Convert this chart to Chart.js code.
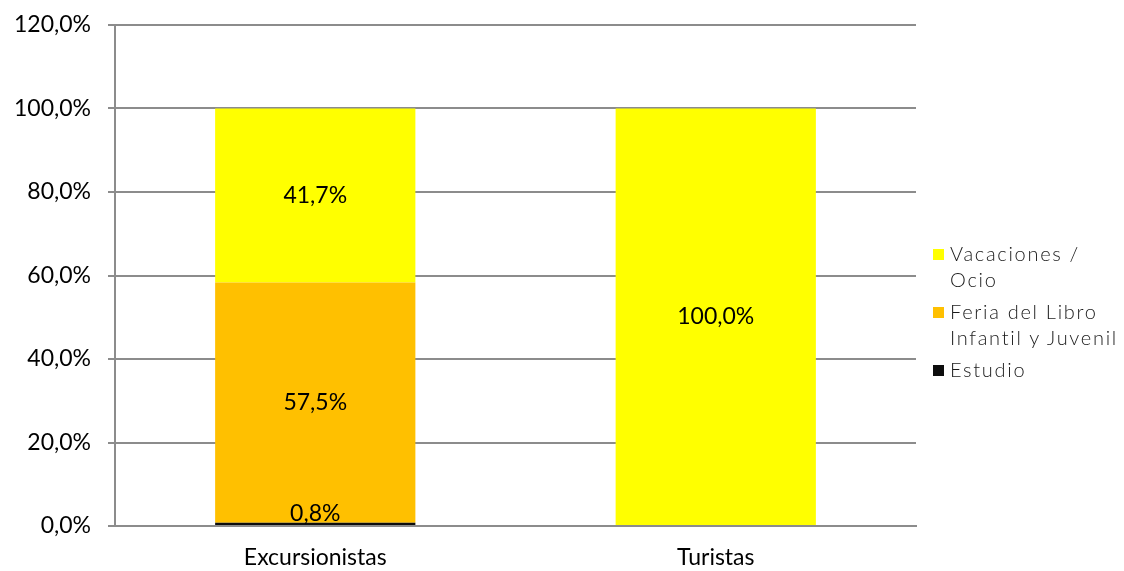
<!DOCTYPE html>
<html>
<head>
<meta charset="utf-8">
<script src="https://cdn.jsdelivr.net/npm/chart.js@4"></script>
<style>
    html, body { margin: 0; padding: 0; background: #fff; }
    #wrap { position: relative; width: 1124px; height: 571px; }
    #legend {
        position: absolute; left: 933px; top: 240px;
        font-family: "Lato", sans-serif; font-weight: 300; font-size: 20px;
        color: #1a1a1a; line-height: 26px; letter-spacing: 1.7px;
    }
    .item { position: relative; padding-left: 17px; margin-bottom: 6px; white-space: nowrap; }
    .box { position: absolute; left: 0; top: 9px; width: 11px; height: 11px; }
</style>
</head>
<body>
<div id="wrap">
    <canvas id="chart" width="1124" height="571"></canvas>
    <div id="legend"></div>
</div>
<script>
// Data
const categories = ["Excursionistas", "Turistas"];
const seriesNames = ["Estudio", "Feria del Libro Infantil y Juvenil", "Vacaciones / Ocio"];
const legendLines = [["Estudio"], ["Feria del Libro", "Infantil y Juvenil"], ["Vacaciones /", "Ocio"]];
const estudio = [0.8, 0];
const feria = [57.5, 0];
const vacaciones = [41.7, 100.0];
const yTicks = [0, 20, 40, 60, 80, 100, 120];
const colors = ["#0d0d0d", "#FFC000", "#FFFF00"];

const fmt = v => v.toFixed(1).replace(".", ",") + "%";

// Draw value labels in the middle of each bar segment
const barLabels = {
    id: "barLabels",
    afterDatasetsDraw(chart) {
        const ctx = chart.ctx;
        ctx.save();
        ctx.font = '23px "Lato", sans-serif';
        ctx.fillStyle = "#000";
        ctx.textAlign = "center";
        chart.data.datasets.forEach((ds, i) => {
            chart.getDatasetMeta(i).data.forEach((bar, j) => {
                const v = ds.data[j];
                if (!v) return;
                const h = Math.abs(bar.base - bar.y);
                if (h < 20) {
                    ctx.textBaseline = "bottom";
                    ctx.fillText(fmt(v), bar.x, bar.y + 2);
                } else {
                    ctx.textBaseline = "middle";
                    ctx.fillText(fmt(v), bar.x, (bar.y + bar.base) / 2);
                }
            });
        });
        ctx.restore();
    }
};

const ctx = document.getElementById("chart").getContext("2d");
new Chart(ctx, {
    type: "bar",
    data: {
        labels: categories,
        datasets: [
            { label: seriesNames[0], data: estudio, backgroundColor: colors[0] },
            { label: seriesNames[1], data: feria, backgroundColor: colors[1] },
            { label: seriesNames[2], data: vacaciones, backgroundColor: colors[2] }
        ]
    },
    options: {
        responsive: false,
        animation: false,
        layout: { padding: { top: 25, right: 208, bottom: 0, left: 0 } },
        datasets: { bar: { categoryPercentage: 1.0, barPercentage: 0.5 } },
        scales: {
            x: {
                stacked: true,
                grid: { display: false, drawTicks: false },
                border: { color: "#8c8c8c", width: 2 },
                ticks: { color: "#000", padding: 18, font: { family: "Lato", size: 23 } },
                afterFit: s => { s.height = 45; s.paddingLeft = 0; s.paddingRight = 0; }
            },
            y: {
                stacked: true,
                min: 0,
                max: 120,
                afterBuildTicks: s => { s.ticks = yTicks.map(v => ({ value: v })); },
                grid: { color: "#8c8c8c", lineWidth: 2, tickLength: 7 },
                border: { color: "#8c8c8c", width: 2 },
                ticks: {
                    color: "#000", padding: 17,
                    font: { family: "Lato", size: 23 },
                    callback: v => fmt(v)
                },
                afterFit: s => { s.width = 115; s.paddingTop = 0; s.paddingBottom = 0; }
            }
        },
        plugins: { legend: { display: false }, tooltip: { enabled: false } }
    },
    plugins: [barLabels]
});

// HTML legend, top entry is the last series
const legend = document.getElementById("legend");
for (let i = seriesNames.length - 1; i >= 0; i--) {
    legend.innerHTML += `<div class="item"><span class="box" style="background:${colors[i]}"></span>${legendLines[i].join("<br>")}</div>`;
}
</script>
</body>
</html>
